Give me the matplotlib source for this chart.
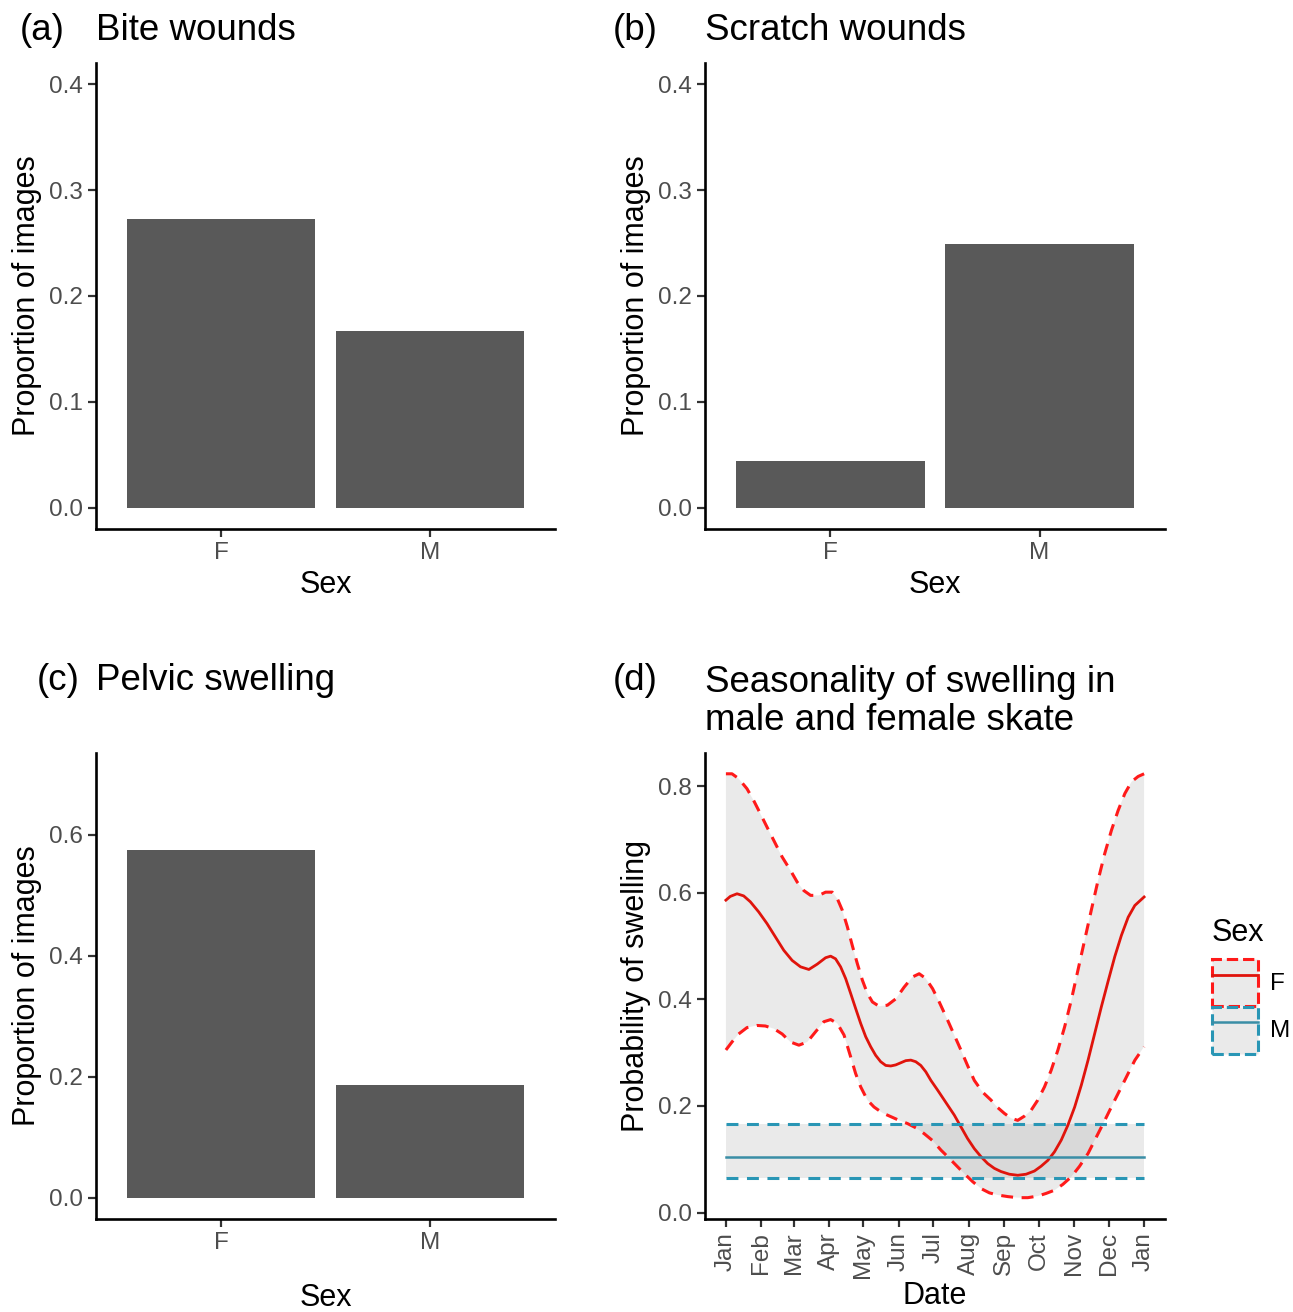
import matplotlib
matplotlib.use("Agg")
import matplotlib.pyplot as plt
import numpy as np
from matplotlib.patches import Patch
from matplotlib.lines import Line2D
from matplotlib.legend_handler import HandlerTuple

plt.rcParams['font.family'] = ['Liberation Sans', 'DejaVu Sans']

# proportion of images with each feature, by sex
sex = ['F', 'M']
bite_prop = [0.273, 0.167]
scratch_prop = [0.044, 0.249]
pelvic_prop = [0.574, 0.186]

# seasonal model, x = day of year
month_labels = ['Jan', 'Feb', 'Mar', 'Apr', 'May', 'Jun', 'Jul',
                'Aug', 'Sep', 'Oct', 'Nov', 'Dec', 'Jan']
month_days = [0, 31, 59, 90, 120, 151, 181, 212, 243, 273, 304, 334, 365]

f_fit_day = [0, 3.8, 9.7, 15.5, 21.3, 28.6, 35.9, 43.2, 50.5, 57.8, 65.1,
             72.4, 79.7, 87.0, 91.4, 95.7, 100.1, 104.5, 108.9, 113.2, 117.6,
             122.0, 126.4, 130.7, 135.1, 139.5, 143.9, 148.2, 152.6, 157.0,
             161.4, 165.7, 170.1, 174.5, 178.9, 184.7, 190.6, 199.3, 205.1,
             210.9, 216.8, 222.6, 228.5, 234.3, 240.1, 247.4, 254.7, 262.0,
             269.3, 275.1, 281.0, 286.8, 292.7, 298.5, 304.4, 310.2, 316.1,
             321.9, 327.7, 333.6, 339.4, 345.2, 351.1, 356.9, 365]
f_fit = [0.586, 0.593, 0.598, 0.594, 0.583, 0.564, 0.542, 0.517, 0.492, 0.473,
         0.461, 0.456, 0.466, 0.478, 0.481, 0.476, 0.461, 0.439, 0.411, 0.383,
         0.355, 0.330, 0.311, 0.295, 0.283, 0.276, 0.275, 0.277, 0.281, 0.285,
         0.286, 0.283, 0.276, 0.264, 0.248, 0.230, 0.211, 0.183, 0.161, 0.139,
         0.120, 0.105, 0.092, 0.083, 0.077, 0.072, 0.070, 0.072, 0.078, 0.087,
         0.098, 0.114, 0.136, 0.164, 0.198, 0.239, 0.286, 0.336, 0.386, 0.434,
         0.480, 0.520, 0.554, 0.576, 0.592]

f_upper_day = [0, 5.3, 11.1, 18.4, 24.2, 30.1, 35.9, 41.8, 49.1, 56.3, 62.2,
               68.0, 73.9, 81.2, 87.0, 92.8, 97.2, 101.6, 106.0, 110.3, 114.7,
               119.1, 123.5, 127.9, 133.7, 141.0, 148.3, 155.6, 162.9, 168.7,
               174.5, 180.4, 186.2, 193.5, 199.3, 205.1, 210.9, 216.8, 224.0,
               231.4, 237.2, 243.1, 248.9, 254.7, 260.6, 266.4, 272.2, 278.1,
               283.9, 289.8, 295.6, 301.4, 307.3, 313.1, 318.9, 324.8, 330.6,
               336.5, 342.3, 348.2, 354.0, 359.8, 365]
f_upper = [0.823, 0.823, 0.814, 0.795, 0.773, 0.748, 0.723, 0.698, 0.667,
           0.642, 0.620, 0.604, 0.595, 0.595, 0.601, 0.601, 0.589, 0.567,
           0.536, 0.501, 0.467, 0.436, 0.411, 0.395, 0.387, 0.389, 0.401,
           0.423, 0.442, 0.448, 0.439, 0.420, 0.395, 0.361, 0.333, 0.305,
           0.276, 0.248, 0.226, 0.211, 0.197, 0.186, 0.177, 0.173, 0.181,
           0.192, 0.211, 0.236, 0.267, 0.305, 0.348, 0.398, 0.455, 0.511,
           0.567, 0.623, 0.673, 0.717, 0.754, 0.786, 0.808, 0.818, 0.823]

f_lower_day = [0, 5.3, 11.1, 18.4, 27.1, 34.4, 41.8, 49.1, 56.3, 63.7, 71.0,
               78.2, 85.5, 91.4, 97.2, 103.1, 108.9, 113.2, 117.6, 123.5, 129.3,
               136.6, 143.9, 151.2, 158.5, 165.8, 173.1, 180.4, 187.8, 193.5,
               200.8, 208.1, 215.4, 222.7, 230.0, 237.3, 246.1, 254.7, 263.5,
               272.2, 279.5, 286.8, 294.1, 301.4, 308.7, 316.1, 323.4, 330.7,
               338.0, 345.3, 351.1, 357.0, 365]
f_lower = [0.305, 0.320, 0.335, 0.347, 0.351, 0.350, 0.345, 0.335, 0.320,
           0.314, 0.320, 0.339, 0.358, 0.362, 0.355, 0.333, 0.292, 0.261,
           0.236, 0.211, 0.198, 0.187, 0.180, 0.173, 0.167, 0.159, 0.148,
           0.135, 0.117, 0.105, 0.089, 0.073, 0.058, 0.045, 0.037, 0.033,
           0.030, 0.028, 0.028, 0.031, 0.036, 0.042, 0.053, 0.067, 0.087,
           0.111, 0.142, 0.173, 0.205, 0.236, 0.261, 0.286, 0.311]

m_fit = 0.105
m_lower = 0.064
m_upper = 0.166

W, H = 1293, 1312
fig = plt.figure(figsize=(W / 100, H / 100), dpi=100)


def px_axes(left, top, right, bottom):
    return fig.add_axes([left / W, 1 - bottom / H, (right - left) / W, (bottom - top) / H])


ax_a = px_axes(96, 63, 555, 529)
ax_b = px_axes(705, 63, 1165, 529)
ax_c = px_axes(96, 753, 555, 1219)
ax_d = px_axes(705, 753, 1165, 1219)

bar_col = '#595959'
tick_col = '#4d4d4d'
red_fit = '#e0140c'
red_ci = '#ff1a1a'
blue_fit = '#3a8ea6'
blue_ci = '#2996b5'
ribbon = (0.6, 0.6, 0.6, 0.2)


def classic(ax):
    for s in ['top', 'right']:
        ax.spines[s].set_visible(False)
    for s in ['left', 'bottom']:
        ax.spines[s].set_linewidth(1.9)
        ax.spines[s].set_color('black')
    ax.tick_params(length=5.5, width=1.6, color='#333333', labelsize=17.5,
                   labelcolor=tick_col, pad=4)


def bar_panel(ax, vals, ylim, ticks, title, title_pad, xpad):
    ax.bar(sex, vals, width=0.9, color=bar_col)
    ax.set_xlim(-0.6, 1.6)
    ax.set_ylim(*ylim)
    ax.set_yticks(ticks)
    ax.set_yticklabels([f'{t:.1f}' for t in ticks])
    classic(ax)
    ax.set_xlabel('Sex', fontsize=22, labelpad=xpad)
    ax.set_ylabel('Proportion of images', fontsize=22, labelpad=5)
    ax.set_title(title, loc='left', fontsize=26.5, pad=title_pad)


bar_panel(ax_a, bite_prop, (-0.02, 0.42), [0, 0.1, 0.2, 0.3, 0.4], 'Bite wounds', 16.5, 4)
bar_panel(ax_b, scratch_prop, (-0.02, 0.42), [0, 0.1, 0.2, 0.3, 0.4], 'Scratch wounds', 16.5, 4)
bar_panel(ax_c, pelvic_prop, (-0.035, 0.735), [0, 0.2, 0.4, 0.6], 'Pelvic swelling', 45, 20.5)

# (d) seasonal swelling probability
ax = ax_d
ax.fill(np.concatenate([f_upper_day, f_lower_day[::-1]]),
        np.concatenate([f_upper, f_lower[::-1]]), color=ribbon, lw=0)
ax.fill_between([0, 365], [m_lower] * 2, [m_upper] * 2, color=ribbon, lw=0)
dash = (0, (3.9, 2.8))
ax.plot(f_upper_day, f_upper, color=red_ci, lw=2.2, ls=dash)
ax.plot(f_lower_day, f_lower, color=red_ci, lw=2.2, ls=dash)
ax.plot(f_fit_day, f_fit, color=red_fit, lw=2.0, solid_joinstyle='round')
ax.plot([0, 365], [m_upper] * 2, color=blue_ci, lw=2.2, ls=dash)
ax.plot([0, 365], [m_lower] * 2, color=blue_ci, lw=2.2, ls=dash)
ax.plot([0, 365], [m_fit] * 2, color=blue_fit, lw=1.8)
ax.set_xlim(-18.25, 383.25)
ax.set_ylim(-0.012, 0.862)
ax.set_xticks(month_days)
ax.set_xticklabels(month_labels, rotation=90)
ax.set_yticks([0, 0.2, 0.4, 0.6, 0.8])
ax.set_yticklabels(['0.0', '0.2', '0.4', '0.6', '0.8'])
classic(ax)
ax.set_xlabel('Date', fontsize=22, labelpad=2.5)
ax.set_ylabel('Probability of swelling', fontsize=22, labelpad=5)
ax.set_title('Seasonality of swelling in\nmale and female skate', loc='left',
             fontsize=26.5, pad=16.5, linespacing=1.1)

handles = [
    (Patch(facecolor=ribbon, edgecolor=red_ci, linestyle='--', linewidth=2.2),
     Line2D([], [], color=red_fit, lw=2.0)),
    (Patch(facecolor=ribbon, edgecolor=blue_ci, linestyle='--', linewidth=2.2),
     Line2D([], [], color=blue_fit, lw=1.8)),
]
leg = fig.legend(handles, ['F', 'M'], title='Sex', loc='upper left',
                 bbox_to_anchor=(1212 / W, 1 - 918 / H), frameon=False,
                 fontsize=17.5, title_fontsize=22, borderpad=0, borderaxespad=0,
                 handlelength=1.9, handleheight=2.6, labelspacing=0.02,
                 handletextpad=0.5, handler_map={tuple: HandlerTuple(ndivide=1)})
leg._legend_box.align = 'left'
leg._legend_box.sep = 8

# panel tags
for label, x, y in [('(a)', 20, 40), ('(b)', 613, 40), ('(c)', 37, 690), ('(d)', 613, 690)]:
    fig.text(x / W, 1 - y / H, label, fontsize=26.5, ha='left', va='baseline')

fig.savefig('out.png', dpi=100)
